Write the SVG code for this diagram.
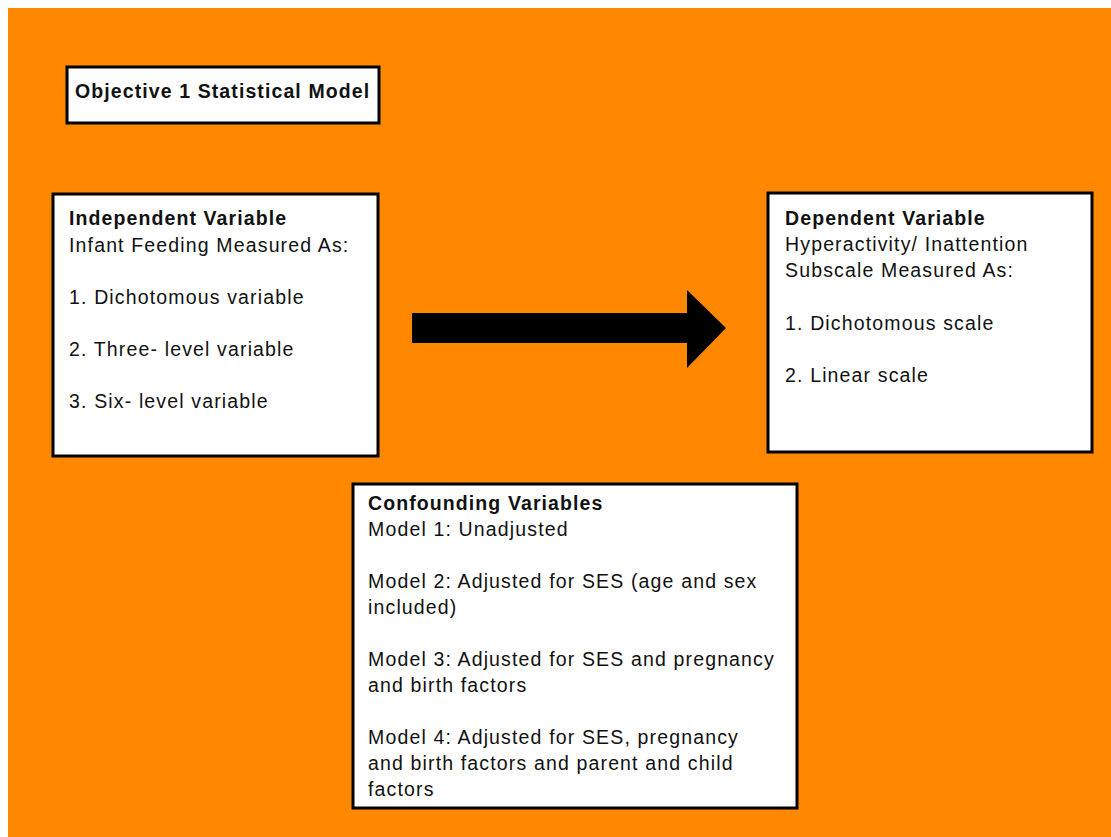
<svg xmlns="http://www.w3.org/2000/svg" width="1111" height="837" viewBox="0 0 1111 837">
  <style>
    .box { fill: #ffffff; stroke: #000000; stroke-width: 3; }
    .t { font-family: "Liberation Sans", Arial, sans-serif; font-size: 19.5px; fill: #111111; letter-spacing: 1.15px; }
    .b { font-weight: bold; letter-spacing: 1.1px; }
  </style>

  <!-- page background -->
  <rect x="0" y="0" width="1111" height="837" fill="#ffffff"/>
  <rect x="8" y="8" width="1103" height="829" fill="#ff8800"/>

  <g id="title">
    <rect class="box" x="67" y="67" width="312" height="56"/>
    <text class="t b" x="75" y="98">Objective 1 Statistical Model</text>
  </g>

  <g id="independent">
    <rect class="box" x="53" y="194" width="325" height="262"/>
    <text class="t b" x="69" y="225">Independent Variable</text>
    <text class="t" x="69" y="252">Infant Feeding Measured As:</text>
    <text class="t" x="69" y="304">1. Dichotomous variable</text>
    <text class="t" x="69" y="356">2. Three- level variable</text>
    <text class="t" x="69" y="408">3. Six- level variable</text>
  </g>

  <g id="dependent">
    <rect class="box" x="768" y="193" width="324" height="259"/>
    <text class="t b" x="785" y="225">Dependent Variable</text>
    <text class="t" x="785" y="251">Hyperactivity/ Inattention</text>
    <text class="t" x="785" y="277">Subscale Measured As:</text>
    <text class="t" x="785" y="330">1. Dichotomous scale</text>
    <text class="t" x="785" y="382">2. Linear scale</text>
  </g>

  <g id="confounding">
    <rect class="box" x="353" y="484" width="444" height="324"/>
    <text class="t b" x="368" y="510">Confounding Variables</text>
    <text class="t" x="368" y="536">Model 1: Unadjusted</text>
    <text class="t" x="368" y="588">Model 2: Adjusted for SES (age and sex</text>
    <text class="t" x="368" y="614">included)</text>
    <text class="t" x="368" y="666">Model 3: Adjusted for SES and pregnancy</text>
    <text class="t" x="368" y="692">and birth factors</text>
    <text class="t" x="368" y="744">Model 4: Adjusted for SES, pregnancy</text>
    <text class="t" x="368" y="770">and birth factors and parent and child</text>
    <text class="t" x="368" y="796">factors</text>
  </g>

  <g id="connectors">
    <!-- block arrow from independent to dependent -->
    <path d="M412 313 H687 V290 L726 328 L687 368 V343 H412 Z" fill="#000000"/>
  </g>
</svg>
